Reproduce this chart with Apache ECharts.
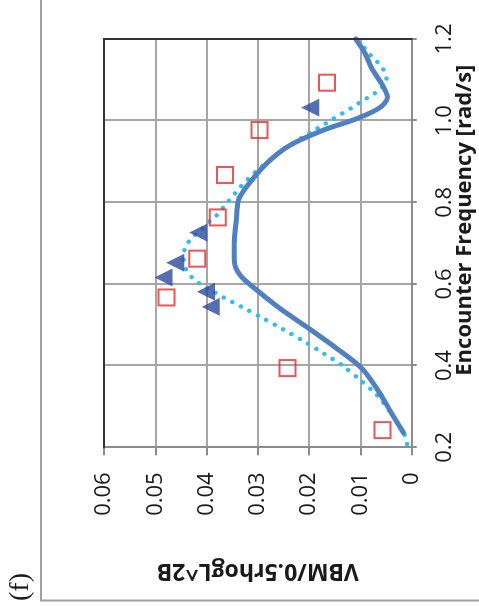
<!DOCTYPE html>
<html><head><meta charset="utf-8">
<script src="https://cdn.jsdelivr.net/npm/echarts@6/dist/echarts.min.js"></script>
<style>
html,body{margin:0;padding:0;width:479px;height:614px;overflow:hidden;background:#fff;}
#chart{position:absolute;left:0;top:0;width:614px;height:479px;transform-origin:0 0;transform:translate(0px,614px) rotate(-90deg);}
</style></head>
<body><div id="chart"></div>
<script>
// Tick labels
const freqTickLabels = ['0.2','0.4','0.6','0.8','1.0','1.2'];
const vbmTickLabels = ['0','0.01','0.02','0.03','0.04','0.05','0.06'];

// Solid curve
const solidFreq = [0.236,0.283,0.332,0.393,0.442,0.495,0.540,0.585,0.622,0.658,0.699,0.756,0.805,0.838,0.895,0.940,0.977,1.005,1.032,1.057,1.087,1.128,1.165,1.200];
const solidVbm  = [0.0016,0.0039,0.0062,0.0097,0.0146,0.0205,0.0257,0.0302,0.0335,0.0346,0.0346,0.0342,0.0338,0.0322,0.0283,0.0237,0.0172,0.0107,0.0062,0.0047,0.0057,0.0078,0.0091,0.0109];

// Dotted curve
const dotFreq = [0.208,0.236,0.283,0.328,0.365,0.401,0.430,0.461,0.489,0.516,0.543,0.556,0.569,0.583,0.597,0.614,0.636,0.665,0.691,0.714,0.732,0.755,0.771,0.793,0.815,0.836,0.856,0.875,0.894,0.911,0.930,0.944,0.959,0.974,0.988,1.003,1.018,1.032,1.048,1.062,1.079,1.103,1.129,1.150,1.171,1.193];
const dotVbm  = [0.0009,0.0016,0.0040,0.0068,0.0101,0.0136,0.0172,0.0212,0.0251,0.0290,0.0330,0.0350,0.0370,0.0389,0.0409,0.0427,0.0440,0.0445,0.0441,0.0428,0.0411,0.0393,0.0378,0.0364,0.0349,0.0335,0.0320,0.0304,0.0286,0.0269,0.0251,0.0232,0.0213,0.0194,0.0174,0.0155,0.0135,0.0116,0.0097,0.0078,0.0060,0.0049,0.0057,0.0072,0.0088,0.0101];

// Open squares
const sqFreq = [0.242,0.394,0.567,0.662,0.763,0.867,0.977,1.093];
const sqVbm  = [0.0057,0.0242,0.0478,0.0418,0.0378,0.0364,0.0297,0.0165];

// Filled triangles
const triFreq = [0.544,0.581,0.616,0.652,0.726,1.032];
const triVbm  = [0.0392,0.0401,0.0484,0.0461,0.0416,0.0198];

const zip = (a,b) => a.map((v,i)=>[v,b[i]]);
const FONT = '"Open Sans", sans-serif';

const chart = echarts.init(document.getElementById('chart'), null, {renderer:'canvas', width:614, height:479});
chart.setOption({
  animation:false,
  backgroundColor:'#fff',
  grid:{left:166.7, right:39, top:104, bottom:67.3, containLabel:false, outerBoundsMode:'none'},
  xAxis:[{
    type:'value', min:0.2, max:1.2, interval:0.2, position:'bottom',
    axisLine:{show:true, onZero:false, lineStyle:{color:'#8c8c8c', width:2}},
    axisTick:{show:true, length:5, lineStyle:{color:'#8c8c8c', width:2}},
    axisLabel:{margin:22, fontSize:22, color:'#1a1a1a', fontFamily:FONT,
      formatter:(v)=>freqTickLabels[Math.round((v-0.2)/0.2)]},
    splitLine:{show:true, lineStyle:{color:'#a6a6a6', width:2}},
    name:'Encounter Frequency [rad/s]', nameLocation:'middle', nameGap:42, nameMoveOverlap:false,
    nameTextStyle:{fontSize:22, fontWeight:'bold', color:'#1a1a1a', fontFamily:FONT, padding:[0,0,0,46]}
  },{
    type:'value', min:0.2, max:1.2, position:'top', z:5,
    axisLine:{show:true, onZero:false, lineStyle:{color:'#333', width:2}},
    axisTick:{show:false}, axisLabel:{show:false}, splitLine:{show:false}
  }],
  yAxis:[{
    type:'value', min:0, max:0.06, interval:0.01, position:'left',
    axisLine:{show:true, onZero:false, lineStyle:{color:'#8c8c8c', width:2}},
    axisTick:{show:true, length:8, lineStyle:{color:'#8c8c8c', width:2}},
    axisLabel:{margin:25, fontSize:22, color:'#1a1a1a', fontFamily:FONT,
      formatter:(v)=>vbmTickLabels[Math.round(v/0.01)]},
    splitLine:{show:true, lineStyle:{color:'#a6a6a6', width:2}},
    name:'VBM/0.5rhogL^2B', nameLocation:'middle', nameGap:112, nameMoveOverlap:false,
    nameTextStyle:{fontSize:23, fontWeight:'bold', color:'#1a1a1a', fontFamily:FONT}
  },{
    type:'value', min:0, max:0.06, position:'right', z:5,
    axisLine:{show:true, onZero:false, lineStyle:{color:'#333', width:2}},
    axisTick:{show:false}, axisLabel:{show:false}, splitLine:{show:false}
  }],
  graphic:[
    {type:'rect', shape:{x:13.5, y:41, width:700, height:500}, style:{fill:'none', stroke:'#a0a0a0', lineWidth:2}, z:-1},
    {type:'text', x:13, y:7, style:{text:'(f)', font:'28px "Liberation Serif", serif', fill:'#1a1a1a', textVerticalAlign:'top'}}
  ],
  series:[
    {type:'line', data:zip(dotFreq,dotVbm), smooth:0.3, symbol:'none', z:3,
      lineStyle:{color:'#33bdef', width:4.5, type:[0.01,9.6], cap:'round'}},
    {type:'line', data:zip(solidFreq,solidVbm), smooth:0.3, symbol:'none', z:4,
      lineStyle:{color:'#4f81c0', width:5, cap:'round'}},
    {type:'scatter', data:zip(sqFreq,sqVbm), symbol:'rect', symbolSize:16, z:6,
      itemStyle:{color:'rgba(255,255,255,0)', borderColor:'#e52b2b', borderWidth:2}},
    {type:'scatter', data:zip(triFreq,triVbm), symbol:'triangle', symbolSize:[18,18], z:6,
      itemStyle:{color:'#2b4a9c'}}
  ]
});
</script></body></html>
